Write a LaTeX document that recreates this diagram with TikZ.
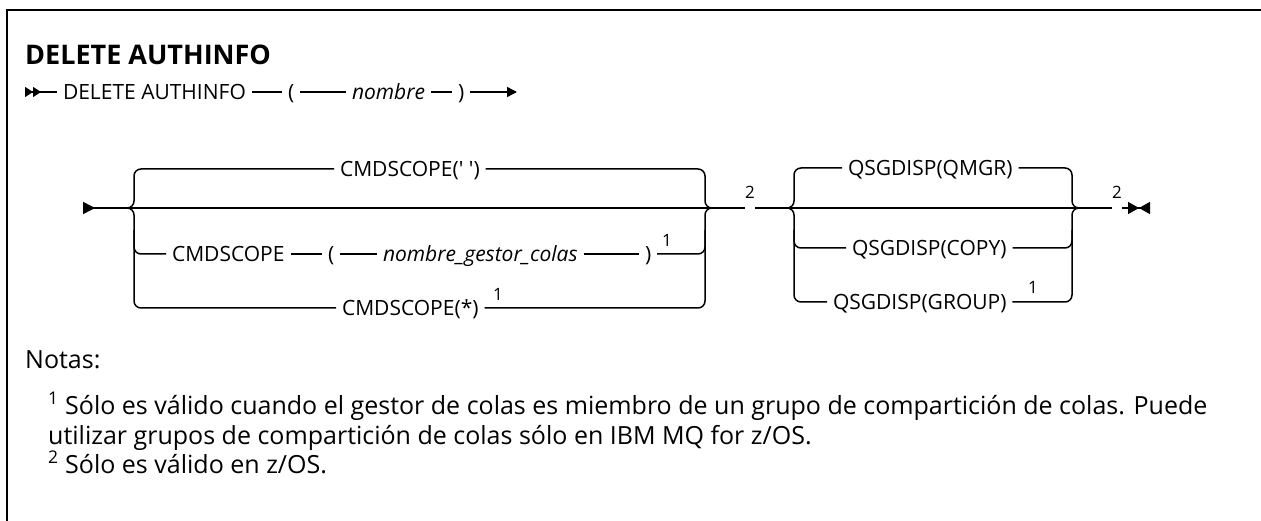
\documentclass[tikz,border=0pt]{standalone}
\usepackage{fontspec}
\setmainfont{Open Sans}
\usetikzlibrary{arrows.meta, positioning}

\begin{document}
\begin{tikzpicture}[
    x=1pt, y=-1pt,
    kw/.style={font=\fontsize{21}{23}\selectfont, inner xsep=0pt,
               inner ysep=0pt, outer xsep=6pt, text height=15pt,
               text depth=0pt, anchor=west},
    varbox/.style={kw, font=\fontsize{21}{23}\selectfont\itshape},
    fnote/.style={font=\fontsize{17}{18}\selectfont, inner sep=0pt},
    rail/.style={line width=1.5pt},
    notetext/.style={font=\fontsize{25}{28}\selectfont, inner sep=0pt,
                     anchor=base west},
]
\useasboundingbox (0,0) rectangle (1261,521);
% frame
\draw[line width=2pt] (1265,10) -- (7,10) -- (7,525);
\node[font=\fontsize{27}{30}\selectfont\bfseries, inner sep=0pt,
      anchor=base west] (title) at (25,65) {DELETE AUTHINFO};

% first line
\coordinate (l1s) at (25,92);
\coordinate (l1e) at (517,92);
\node[kw] (del) at (57,92) {DELETE AUTHINFO};
\node[kw] (lp1) at (282,92) {(};
\node[varbox] (nom) at (346,92) {nombre};
\node[kw] (rp1) at (452,92) {)};
\draw[rail, {Triangle[reversed,length=8pt,width=10pt]Triangle[reversed,length=8pt,width=10pt]}-] (l1s) -- (del);
\draw[rail] (del) -- (lp1);
\draw[rail] (lp1) -- (nom);
\draw[rail] (nom) -- (rp1);
\draw[rail, -{Triangle[length=10pt,width=10pt]}] (rp1) -- (l1e);

% second line: CMDSCOPE group
\coordinate (m0) at (83,208);
\coordinate (bLa) at (127,208);
\coordinate (bRa) at (712,208);
\coordinate (bLb) at (787,208);
\coordinate (bRb) at (1079,208);
\coordinate (fin) at (1150,208);
\node[kw] (sc1) at (334,169) {CMDSCOPE(\textquotesingle\ \textquotesingle)};
\node[kw] (cs2) at (166,254) {CMDSCOPE};
\node[kw] (lp2) at (322,254) {(};
\node[varbox] (qmn) at (377,254) {nombre\_gestor\_colas};
\node[kw] (rp2) at (639,254) {)};
\node[fnote] (one1) at (667,240) {1};
\node[kw] (sc3) at (336,308) {CMDSCOPE(*)};
\node[fnote] (one2) at (498,294) {1};

\draw[rail, {Triangle[reversed,length=12pt,width=12pt]}-] (m0) -- (bRa);
\draw[rail, rounded corners=7pt] (sc1.west) -| (134,208) -- (bLa);
\draw[rail, rounded corners=7pt] (sc3.west) -| (134,208) -- (bLa);
\draw[rail, rounded corners=7pt] (134,230) |- (cs2.west);
\draw[rail] (cs2) -- (lp2);
\draw[rail] (lp2) -- (qmn);
\draw[rail] (qmn) -- (rp2);
\draw[rail, rounded corners=7pt] (sc1.east) -| (705,208) -- (bRa);
\draw[rail, rounded corners=7pt] (sc3.east) -| (705,208) -- (bRa);
\draw[rail, rounded corners=7pt] (rp2.east) -| (705,230);

\node[fnote] (two1) at (750,192) {2};
\draw[rail] (bRa) -- (bRa -| two1.west);
\draw[rail] (two1.east |- bLb) -- (bLb);

% QSGDISP group
\node[kw] (qs1) at (842,168) {QSGDISP(QMGR)};
\node[kw] (qs2) at (846,248) {QSGDISP(COPY)};
\node[kw] (qs3) at (827,302) {QSGDISP(GROUP)};
\node[fnote] (one3) at (1033,287) {1};
\draw[rail] (bLb) -- (bRb);
\draw[rail, rounded corners=7pt] (qs1.west) -| (794,208) -- (bLb);
\draw[rail, rounded corners=7pt] (qs3.west) -| (794,208) -- (bLb);
\draw[rail, rounded corners=7pt] (794,230) |- (qs2.west);
\draw[rail, rounded corners=7pt] (qs1.east) -| (1072,208) -- (bRb);
\draw[rail, rounded corners=7pt] (qs3.east) -| (1072,208) -- (bRb);
\draw[rail, rounded corners=7pt] (qs2.east) -| (1072,230);

\node[fnote] (two2) at (1117,192) {2};
\draw[rail] (bRb) -- (bRb -| two2.west);
\draw[rail, -{Triangle[length=11pt,width=12pt]Triangle[length=11pt,width=12pt,reversed]}] (two2.east |- fin) -- (fin);

% notes
\node[notetext] (notas) at (25,368) {Notas:};
\node[notetext] (n1a) at (48,414) {\textsuperscript{1} Sólo es válido cuando el gestor de colas es miembro de un grupo de compartición de colas. Puede};
\node[notetext] (n1b) at (48,444) {utilizar grupos de compartición de colas sólo en IBM MQ for z/OS.};
\node[notetext] (n2) at (48,473) {\textsuperscript{2} Sólo es válido en z/OS.};
\end{tikzpicture}
\end{document}
